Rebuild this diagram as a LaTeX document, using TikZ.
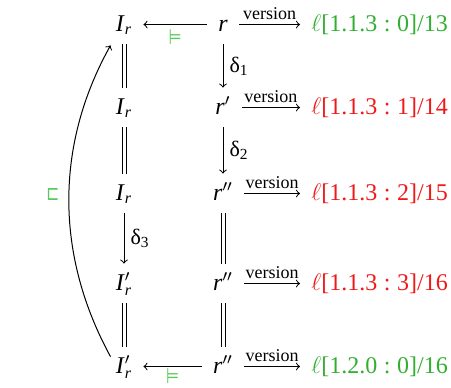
\documentclass[tikz,border=0pt]{standalone}
\usepackage{amsmath,amssymb}
\usepackage{graphicx}
\usepackage{fontspec}
\setmainfont{Liberation Serif}
\newfontfamily\symfont{DejaVu Sans}
\definecolor{lgreen}{RGB}{50,175,50}
\definecolor{sgreen}{RGB}{90,200,90}
\definecolor{lred}{RGB}{240,25,25}
\newcommand\myIr{\textit{I}$_{\textit{r}}$}
\newcommand\myIpr{\textit{I}$^{\prime}_{\textit{r}}$}
\newcommand\myr{\textit{r}}
\newcommand\myrp{\textit{r}$^{\prime}$}
\newcommand\myrpp{\textit{r}$^{\prime\prime}$}
\newcommand\mymodels{\resizebox{6.5pt}{7.4pt}{\raisebox{\depth}{\symfont ⊨}}}
\newcommand\mysqs{\resizebox{6.5pt}{6pt}{\raisebox{\depth}{\symfont ⊏}}}
\tikzset{
  obj/.style={text height=8pt, text depth=1.5pt, inner ysep=0pt, inner xsep=5.5pt, anchor=base},
  lab/.style={obj, anchor=base west},
  ar/.style={->, line width=0.5pt},
  eqline/.style={line width=0.45pt, shorten <=5pt, shorten >=5pt},
  dar/.style={->, line width=0.5pt, shorten <=5pt, shorten >=5pt},
  vsty/.style={font=\fontsize{9}{10}\selectfont, inner sep=0pt, anchor=base, yshift=2.5pt},
  dsty/.style={font=\fontsize{11}{12}\selectfont, anchor=west, inner sep=3pt},
  gsym/.style={text=sgreen, inner sep=0pt}
}
\begin{document}
\begin{tikzpicture}[x=0.5pt, y=-0.5pt, every node/.style={font=\fontsize{12}{14}\selectfont}]
\useasboundingbox (0,0) rectangle (451,387);
% rows
\node[obj] (I1) at (124,31) {\myIr};
\node[obj] (r1) at (223,31) {\myr};
\node[lab, text=lgreen] (l1) at (300,31) {$\ell$[1.1.3\;:\;0]/13};
\node[obj] (I2) at (124,114) {\myIr};
\node[obj] (r2) at (223,114) {\myrp};
\node[lab, text=lred] (l2) at (300,114) {$\ell$[1.1.3\;:\;1]/14};
\node[obj] (I3) at (124,200) {\myIr};
\node[obj] (r3) at (223,200) {\myrpp};
\node[lab, text=lred] (l3) at (300,200) {$\ell$[1.1.3\;:\;2]/15};
\node[obj] (I4) at (124,290) {\myIpr};
\node[obj] (r4) at (223,290) {\myrpp};
\node[lab, text=lred] (l4) at (300,290) {$\ell$[1.1.3\;:\;3]/16};
\node[obj] (I5) at (124,373) {\myIpr};
\node[obj] (r5) at (223,373) {\myrpp};
\node[lab, text=lgreen] (l5) at (300,373) {$\ell$[1.2.0\;:\;0]/16};
% version arrows
\draw[ar] (r1.east) -- node[vsty] {version} (l1.west);
\draw[ar] (r2.east) -- node[vsty] {version} (l2.west);
\draw[ar] (r3.east) -- node[vsty] {version} (l3.west);
\draw[ar] (r4.east) -- node[vsty] {version} (l4.west);
\draw[ar] (r5.east) -- node[vsty] {version} (l5.west);
% left arrows
\draw[ar] (r1.west) -- node[gsym, anchor=north, yshift=-2.5pt] {\mymodels} (I1.east);
\draw[ar] (r5.west) -- node[gsym, anchor=north, yshift=-1pt] {\mymodels} (I5.east);
% r column
\draw[dar] (r1.south) -- node[dsty] {δ\textsubscript{1}} (r2.north);
\draw[dar] (r2.south) -- node[dsty] {δ\textsubscript{2}} (r3.north);
\draw[eqline] ([xshift=-1pt]r3.south) -- ([xshift=-1pt]r4.north);
\draw[eqline] ([xshift=1pt]r3.south) -- ([xshift=1pt]r4.north);
\draw[eqline] ([xshift=-1pt]r4.south) -- ([xshift=-1pt]r5.north);
\draw[eqline] ([xshift=1pt]r4.south) -- ([xshift=1pt]r5.north);
% I column
\draw[eqline] ([xshift=-1pt]I1.south) -- ([xshift=-1pt]I2.north);
\draw[eqline] ([xshift=1pt]I1.south) -- ([xshift=1pt]I2.north);
\draw[eqline] ([xshift=-1pt]I2.south) -- ([xshift=-1pt]I3.north);
\draw[eqline] ([xshift=1pt]I2.south) -- ([xshift=1pt]I3.north);
\draw[dar] (I3.south) -- node[dsty] {δ\textsubscript{3}} (I4.north);
\draw[eqline] ([xshift=-1pt]I4.south) -- ([xshift=-1pt]I5.north);
\draw[eqline] ([xshift=1pt]I4.south) -- ([xshift=1pt]I5.north);
% curved arrow
\draw[ar] ([xshift=3pt]I5.north west) .. controls (55,255) and (55,145) .. node[gsym, pos=0.5, anchor=east, xshift=-4.5pt, yshift=3pt] {\mysqs} ([shift={(3pt,-5.5pt)}]I1.south west);
\end{tikzpicture}
\end{document}
